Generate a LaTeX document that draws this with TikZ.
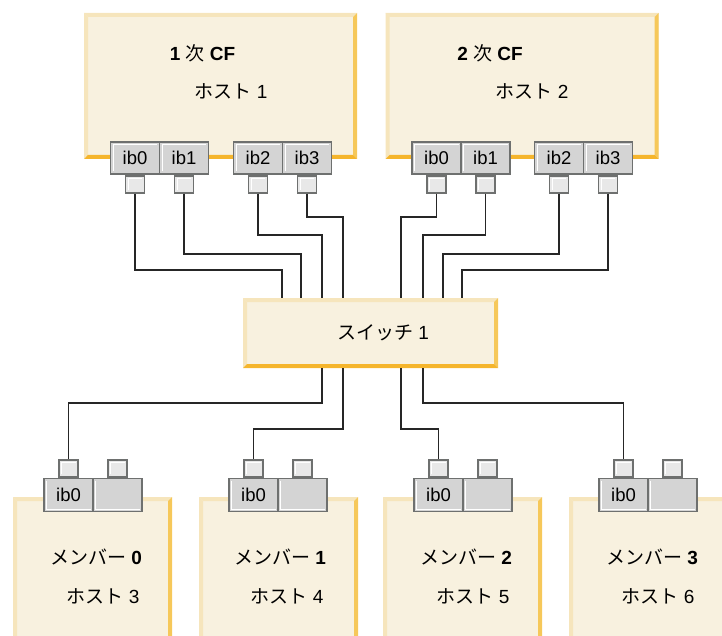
\documentclass[tikz,border=0pt]{standalone}
\usepackage{fontspec}
\setmainfont{Liberation Sans}
\newfontfamily\jp{Noto Sans CJK JP}
\usepackage{tikz}
\usetikzlibrary{positioning}

\definecolor{crema}{HTML}{F8F1DF}
\definecolor{claro}{HTML}{F6E5BC}
\definecolor{naranja}{HTML}{F6C85A}
\definecolor{naranjaosc}{HTML}{F5B52C}
\definecolor{gris}{HTML}{6E706F}
\definecolor{grispuerto}{HTML}{D4D4D4}
\definecolor{grisenchufe}{HTML}{E8E8E8}

\begin{document}
\begin{tikzpicture}[x=1pt, y=-1pt,
  caja/.style={fill=crema, inner sep=0pt, path picture={
    \fill[claro] (path picture bounding box.north west) -- (path picture bounding box.north east)
      -- ([shift={(-4pt,-4pt)}]path picture bounding box.north east) -- ([shift={(4pt,-4pt)}]path picture bounding box.north west) -- cycle;
    \fill[claro] (path picture bounding box.north west) -- (path picture bounding box.south west)
      -- ([shift={(4pt,4pt)}]path picture bounding box.south west) -- ([shift={(4pt,-4pt)}]path picture bounding box.north west) -- cycle;
    \fill[naranja] (path picture bounding box.north east) -- (path picture bounding box.south east)
      -- ([shift={(-4pt,4pt)}]path picture bounding box.south east) -- ([shift={(-4pt,-4pt)}]path picture bounding box.north east) -- cycle;
    \fill[naranjaosc] (path picture bounding box.south west) -- (path picture bounding box.south east)
      -- ([shift={(-4pt,4pt)}]path picture bounding box.south east) -- ([shift={(4pt,4pt)}]path picture bounding box.south west) -- cycle;
  }},
  host/.style={caja, minimum width=273pt, minimum height=146pt},
  miembro/.style={caja, minimum width=159pt, minimum height=173pt},
  switch/.style={caja, minimum width=255pt, minimum height=70pt},
  puerto/.style={draw=gris, fill=grispuerto, line width=1.8pt, minimum width=49pt, minimum height=32pt,
    inner sep=0pt, font=\fontsize{18.5}{18.5}\selectfont},
  puertoarriba/.style={puerto, path picture={\draw[white, line width=1pt]
    ([shift={(2.5pt,2.5pt)}]path picture bounding box.south west) |- ([shift={(-2.5pt,-2.5pt)}]path picture bounding box.north east);}},
  puertoabajo/.style={puerto, minimum height=33pt, path picture={\draw[white, line width=1pt]
    ([shift={(2.5pt,-2.5pt)}]path picture bounding box.north west) |- ([shift={(-2.5pt,2.5pt)}]path picture bounding box.south east);}},
  enchufe/.style={draw=gris, fill=grisenchufe, line width=1.8pt, minimum width=19pt, minimum height=17pt, inner sep=0pt,
    path picture={\draw[white, line width=1pt]
    ([shift={(2.5pt,2.5pt)}]path picture bounding box.south west) |- ([shift={(-2.5pt,-2.5pt)}]path picture bounding box.north east);}},
  texto/.style={font=\fontsize{19}{21}\selectfont, inner sep=0pt},
  cable/.style={line width=1.5pt, black!85}
]
  \useasboundingbox (0,0) rectangle (722,636);
  \clip (0,0) rectangle (722,636);

  % hosts CF
  \node[host] (h1) at (220.5,86) {};
  \node[host] (h2) at (522,86) {};
  \node[texto] (t1) at (202.5,53) {\textbf{1} {\jp 次} \textbf{CF}};
  \node[texto] (n1) at (231,91) {{\jp ホスト} 1};
  \node[texto] (t2) at (490,53) {\textbf{2} {\jp 次} \textbf{CF}};
  \node[texto] (n2) at (532,91) {{\jp ホスト} 2};

  \node[puertoarriba] (p1a) at (135,158) {ib0};
  \node[puertoarriba] (p1b) at (184,158) {ib1};
  \node[puertoarriba] (p1c) at (258,158) {ib2};
  \node[puertoarriba] (p1d) at (307,158) {ib3};
  \node[puertoarriba] (p2a) at (436.5,158) {ib0};
  \node[puertoarriba] (p2b) at (485.5,158) {ib1};
  \node[puertoarriba] (p2c) at (559,158) {ib2};
  \node[puertoarriba] (p2d) at (608,158) {ib3};
  \node[enchufe, below=0pt of p1a] (s1a) {};
  \node[enchufe, below=0pt of p1b] (s1b) {};
  \node[enchufe, below=0pt of p1c] (s1c) {};
  \node[enchufe, below=0pt of p1d] (s1d) {};
  \node[enchufe, below=0pt of p2a] (s2a) {};
  \node[enchufe, below=0pt of p2b] (s2b) {};
  \node[enchufe, below=0pt of p2c] (s2c) {};
  \node[enchufe, below=0pt of p2d] (s2d) {};

  % switch
  \node[switch] (sw) at (370.5,333) {};
  \node[texto] (swt) at (383,333) {{\jp スイッチ} 1};

  % miembros
  \node[miembro] (m0) at (92.5,583.5) {};
  \node[miembro] (m1) at (278.5,583.5) {};
  \node[miembro] (m2) at (462.5,583.5) {};
  \node[miembro] (m3) at (648.5,583.5) {};
  \node[texto] (e0) at (96,557) {{\jp メンバー} \textbf{0}};
  \node[texto] (o0) at (103,596) {{\jp ホスト} 3};
  \node[texto] (e1) at (280,557) {{\jp メンバー} \textbf{1}};
  \node[texto] (o1) at (287,596) {{\jp ホスト} 4};
  \node[texto] (e2) at (466,557) {{\jp メンバー} \textbf{2}};
  \node[texto] (o2) at (473,596) {{\jp ホスト} 5};
  \node[texto] (e3) at (652,557) {{\jp メンバー} \textbf{3}};
  \node[texto] (o3) at (658,596) {{\jp ホスト} 6};

  \node[puertoabajo] (r0a) at (68.5,495) {ib0};
  \node[puertoabajo] (r0b) at (117.5,495) {};
  \node[puertoabajo] (r1a) at (253.5,495) {ib0};
  \node[puertoabajo] (r1b) at (302.5,495) {};
  \node[puertoabajo] (r2a) at (438.5,495) {ib0};
  \node[puertoabajo] (r2b) at (487.5,495) {};
  \node[puertoabajo] (r3a) at (623.5,495) {ib0};
  \node[puertoabajo] (r3b) at (672.5,495) {};
  \node[enchufe, above=0pt of r0a] (q0a) {};
  \node[enchufe, above=0pt of r0b] (q0b) {};
  \node[enchufe, above=0pt of r1a] (q1a) {};
  \node[enchufe, above=0pt of r1b] (q1b) {};
  \node[enchufe, above=0pt of r2a] (q2a) {};
  \node[enchufe, above=0pt of r2b] (q2b) {};
  \node[enchufe, above=0pt of r3a] (q3a) {};
  \node[enchufe, above=0pt of r3b] (q3b) {};

  % cables
  \draw[cable] (s1a.south) |- (282,270) -- (282,0 |- sw.north);
  \draw[cable] (s1b.south) |- (301,254) -- (301,0 |- sw.north);
  \draw[cable] (s1c.south) |- (322,235) -- (322,0 |- sw.north);
  \draw[cable] (s1d.south) |- (343,217) -- (343,0 |- sw.north);
  \draw[cable] (s2a.south) |- (401,217) -- (401,0 |- sw.north);
  \draw[cable] (s2b.south) |- (423,235) -- (423,0 |- sw.north);
  \draw[cable] (s2c.south) |- (443,254) -- (443,0 |- sw.north);
  \draw[cable] (s2d.south) |- (462,270) -- (462,0 |- sw.north);
  \draw[cable] (322,0 |- sw.south) |- (0,403 -| q0a.north) -- (q0a.north);
  \draw[cable] (343,0 |- sw.south) |- (0,429 -| q1a.north) -- (q1a.north);
  \draw[cable] (401,0 |- sw.south) |- (0,429 -| q2a.north) -- (q2a.north);
  \draw[cable] (423,0 |- sw.south) |- (0,403 -| q3a.north) -- (q3a.north);
\end{tikzpicture}
\end{document}
